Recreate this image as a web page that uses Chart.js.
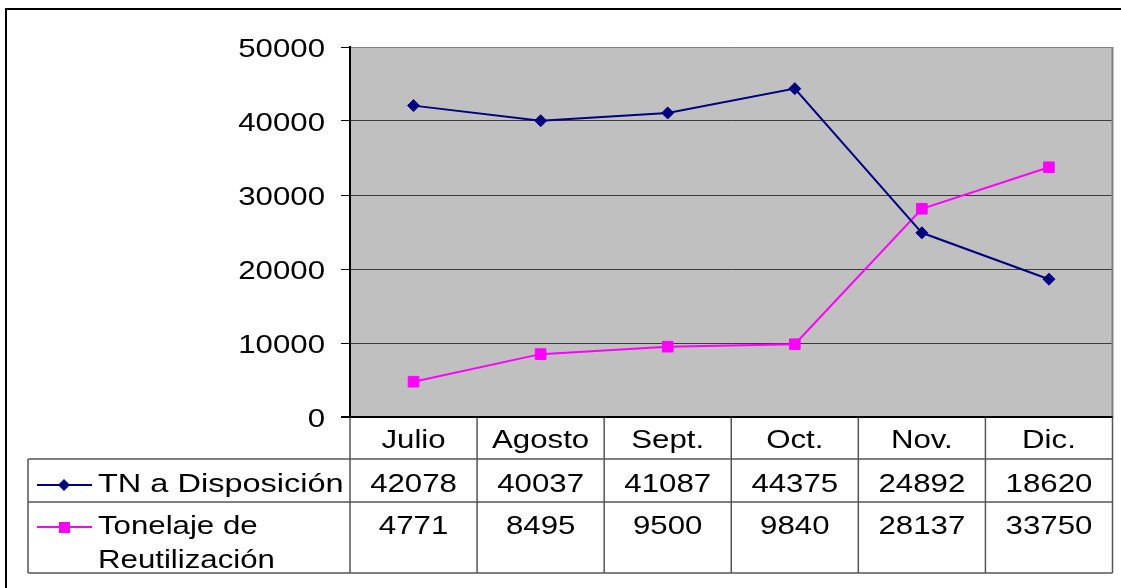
<!DOCTYPE html>
<html>
<head>
<meta charset="utf-8">
<script src="https://cdn.jsdelivr.net/npm/chart.js@4"></script>
<style>
  html, body { margin: 0; padding: 0; background: #fff; }
  canvas { display: block; }
</style>
</head>
<body>
<canvas id="grafico" width="1121" height="588" style="width:1121px;height:588px"></canvas>
<script>
// datos
const meses = ["Julio", "Agosto", "Sept.", "Oct.", "Nov.", "Dic."];
const tnDisposicion = [42078, 40037, 41087, 44375, 24892, 18620];
const tonReutilizacion = [4771, 8495, 9500, 9840, 28137, 33750];
const ticksY = [0, 10000, 20000, 30000, 40000, 50000];
const nombres = ["TN a Disposición", "Tonelaje de Reutilización"];

const fuente = "26px 'Liberation Sans', Arial, sans-serif";
const ESC = 1.2; // el texto original es más ancho que Arial normal

function texto(ctx, s, x, y, align, esc) {
  const e = esc || ESC;
  const w = ctx.measureText(s).width * e;
  const x0 = align === "center" ? x - w / 2 : align === "right" ? x - w : x;
  ctx.save();
  ctx.translate(x0, y);
  ctx.scale(e, 1);
  ctx.textAlign = "left";
  ctx.fillText(s, 0, 0);
  ctx.restore();
}

function linea(ctx, x1, y1, x2, y2) {
  ctx.beginPath();
  ctx.moveTo(x1, y1);
  ctx.lineTo(x2, y2);
  ctx.stroke();
}

// filas de la tabla de datos bajo el gráfico
const filaMeses = 459, filaTN = 502, filaFin = 573, tablaIzq = 28;

const tabla = {
  id: "tabla",
  beforeDraw(chart) {
    const { ctx, chartArea: a } = chart;
    ctx.save();
    ctx.fillStyle = "#c0c0c0";
    ctx.fillRect(a.left, a.top, a.right - a.left, a.bottom - a.top);
    ctx.restore();
  },
  afterDraw(chart) {
    const { ctx, chartArea: a } = chart;
    const xs = chart.scales.x, ys = chart.scales.y;
    const ancho = (a.right - a.left) / meses.length;
    ctx.save();

    // marco exterior
    ctx.strokeStyle = "#000";
    ctx.lineWidth = 2;
    ctx.beginPath();
    ctx.moveTo(6, 588);
    ctx.lineTo(6, 9);
    ctx.lineTo(1121, 9);
    ctx.stroke();

    // borde derecho del área
    ctx.strokeStyle = "#808080";
    ctx.lineWidth = 2;
    linea(ctx, a.right, a.top, a.right, a.bottom);

    // líneas de la tabla
    ctx.strokeStyle = "#555";
    ctx.lineWidth = 1.5;
    linea(ctx, tablaIzq, filaMeses, a.right, filaMeses);
    linea(ctx, tablaIzq, filaTN, a.right, filaTN);
    linea(ctx, tablaIzq, filaFin, a.right, filaFin);
    linea(ctx, tablaIzq, filaMeses, tablaIzq, filaFin);
    for (let i = 0; i <= meses.length; i++) {
      const x = a.left + i * ancho;
      linea(ctx, x, a.bottom, x, filaFin);
    }

    // eje x
    ctx.strokeStyle = "#000";
    ctx.lineWidth = 2;
    linea(ctx, a.left - 9, a.bottom, a.right, a.bottom);

    // textos
    ctx.fillStyle = "#000";
    ctx.font = fuente;
    ticksY.forEach(v => texto(ctx, String(v), 325, ys.getPixelForValue(v) + 10, "right"));
    meses.forEach((m, i) => {
      const x = xs.getPixelForValue(i);
      texto(ctx, m, x, 448, "center");
      texto(ctx, String(tnDisposicion[i]), x, 492, "center");
      texto(ctx, String(tonReutilizacion[i]), x, 534, "center");
    });
    texto(ctx, nombres[0], 98, 492, "left", 1.25);
    const partes = nombres[1].split(" ");
    texto(ctx, partes.slice(0, 2).join(" "), 98, 534, "left");
    texto(ctx, partes.slice(2).join(" "), 98, 568, "left");

    // claves de la leyenda
    const ds = chart.data.datasets;
    const claves = [[485, ds[0]], [527, ds[1]]];
    claves.forEach(([y, d], k) => {
      ctx.strokeStyle = d.borderColor;
      ctx.fillStyle = d.backgroundColor;
      ctx.lineWidth = 2;
      linea(ctx, 37, y, 92, y);
      ctx.beginPath();
      if (k === 0) {
        ctx.moveTo(64, y - 6); ctx.lineTo(70, y); ctx.lineTo(64, y + 6); ctx.lineTo(58, y);
      } else {
        ctx.rect(59, y - 5, 11, 11);
      }
      ctx.closePath();
      ctx.fill();
    });
    ctx.restore();
  }
};

new Chart(document.getElementById("grafico"), {
  type: "line",
  data: {
    labels: meses,
    datasets: [
      { label: nombres[0], data: tnDisposicion, borderColor: "#000080", backgroundColor: "#000080",
        borderWidth: 2, pointStyle: "rectRot", pointRadius: 6, pointBorderWidth: 1, tension: 0 },
      { label: nombres[1], data: tonReutilizacion, borderColor: "#ff00ff", backgroundColor: "#ff00ff",
        borderWidth: 2, pointStyle: "rect", pointRadius: 7.5, pointBorderWidth: 1, tension: 0 }
    ]
  },
  options: {
    responsive: false,
    devicePixelRatio: 1,
    animation: false,
    layout: { padding: { top: 47, right: 8, bottom: 171, left: 0 } },
    plugins: { legend: { display: false }, tooltip: { enabled: false } },
    scales: {
      x: { display: false, offset: true },
      y: {
        min: 0,
        max: 50000,
        ticks: { stepSize: 10000, display: false },
        grid: {
          color: c => (c.tick && c.tick.value === 50000 ? "#808080" : "#3a3a3a"),
          lineWidth: 1,
          tickLength: 9,
          tickColor: "#000"
        },
        border: { color: "#000", width: 2 },
        afterFit: s => { s.width = 350; }
      }
    }
  },
  plugins: [tabla]
});
</script>
</body>
</html>
